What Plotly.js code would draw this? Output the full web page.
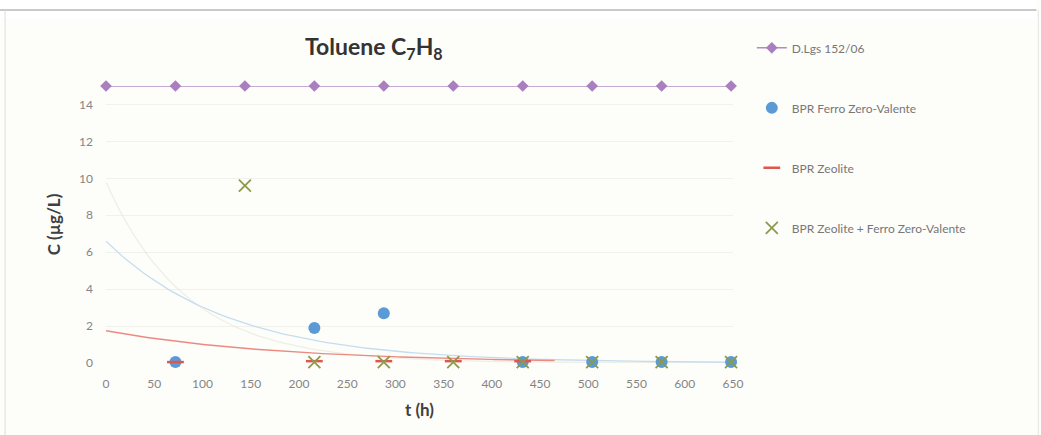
<!DOCTYPE html>
<html>
<head>
<meta charset="utf-8">
<script src="https://cdn.plot.ly/plotly-3.0.1.min.js"></script>
<style>
  html, body { margin: 0; padding: 0; background: #ffffff; }
  #chart { width: 1041px; height: 435px; }
</style>
</head>
<body>
<div id="chart"></div>
<script>
// Sampling times (h)
const limitTimes = [0, 72, 144, 216, 288, 360, 432, 504, 576, 648];
// Legal limit D.Lgs 152/06 for toluene (µg/L)
const limitValues = [15, 15, 15, 15, 15, 15, 15, 15, 15, 15];

// BPR Ferro Zero-Valente
const ferroTimes = [72, 216, 288, 432, 504, 576, 648];
const ferroValues = [0.05, 1.9, 2.7, 0.05, 0.05, 0.05, 0.05];

// BPR Zeolite
const zeoTimes = [72, 216, 288, 360, 432];
const zeoValues = [0.05, 0.1, 0.1, 0.1, 0.1];

// BPR Zeolite + Ferro Zero-Valente
const mixTimes = [144, 216, 288, 360, 432, 504, 576, 648];
const mixValues = [9.6, 0.05, 0.05, 0.05, 0.05, 0.05, 0.05, 0.05];

// Exponential trendlines y = a * exp(b * t): [a, b, tStart, tEnd]
const ferroTrend = [6.6, -0.0078, 0, 650];
const zeoTrend = [1.75, -0.0055, 0, 465];
const mixTrend = [9.8, -0.012, 0, 650];

const xTicks = [0, 50, 100, 150, 200, 250, 300, 350, 400, 450, 500, 550, 600, 650];
const yTicks = [0, 2, 4, 6, 8, 10, 12, 14];

function trendCurve(p) {
  const [a, b, t0, t1] = p;
  const xs = [], ys = [];
  const n = 120;
  for (let i = 0; i <= n; i++) {
    const t = t0 + (t1 - t0) * i / n;
    xs.push(t);
    ys.push(a * Math.exp(b * t));
  }
  return { x: xs, y: ys };
}

const font = 'Lato, "Open Sans", "DejaVu Sans", sans-serif';

const tFerro = trendCurve(ferroTrend);
const tZeo = trendCurve(zeoTrend);
const tMix = trendCurve(mixTrend);

const traces = [
  { x: tMix.x, y: tMix.y, mode: 'lines', showlegend: false, hoverinfo: 'skip',
    line: { color: 'rgba(226,228,214,0.55)', width: 1.3 } },
  { x: tFerro.x, y: tFerro.y, mode: 'lines', showlegend: false, hoverinfo: 'skip',
    line: { color: '#c6ddf0', width: 1.3 } },
  { x: tZeo.x, y: tZeo.y, mode: 'lines', showlegend: false, hoverinfo: 'skip',
    line: { color: '#ec8a80', width: 1.4 } },
  { x: limitTimes, y: limitValues, name: 'D.Lgs 152/06', mode: 'lines+markers',
    legendgroup: 'a', cliponaxis: false,
    line: { color: '#b08cc4', width: 1.5 },
    marker: { symbol: 'diamond', size: 9, color: '#a97fbf' } },
  { x: ferroTimes, y: ferroValues, name: 'BPR Ferro Zero-Valente', mode: 'markers',
    legendgroup: 'b', cliponaxis: false,
    marker: { symbol: 'circle', size: 12, color: '#5b9bd5' } },
  { x: zeoTimes, y: zeoValues, name: 'BPR Zeolite', mode: 'markers',
    legendgroup: 'c', cliponaxis: false,
    marker: { symbol: 'line-ew-open', size: 12, color: '#e0564c', line: { color: '#e0564c', width: 2.5 } } },
  { x: mixTimes, y: mixValues, name: 'BPR Zeolite + Ferro Zero-Valente', mode: 'markers',
    legendgroup: 'd', cliponaxis: false,
    marker: { symbol: 'x-thin-open', size: 12, color: '#8c9a4c', line: { color: '#8c9a4c', width: 1.8 } } }
];

const layout = {
  width: 1041, height: 435,
  margin: { l: 106, r: 308, t: 86, b: 72 },
  paper_bgcolor: '#fdfdfa',
  plot_bgcolor: '#fdfdfa',
  font: { family: font, color: '#6f6f6f', size: 12 },
  xaxis: {
    range: [0, 650], tickvals: xTicks, ticks: '', showgrid: false, zeroline: false,
    showline: false, ticklabelstandoff: 12,
    tickfont: { size: 12, color: '#858585' },
    title: { text: 't (h)', font: { size: 17, color: '#404040', family: font, weight: 'bold' }, standoff: 14 }
  },
  yaxis: {
    range: [0, 15], tickvals: yTicks, ticks: '', showgrid: true, gridcolor: '#f1f1ee',
    zeroline: false, showline: false, ticklabelstandoff: 12,
    tickfont: { size: 12, color: '#858585' },
    title: { text: 'C (µg/L)', font: { size: 17, color: '#404040', family: font, weight: 'bold' }, standoff: 14 }
  },
  legend: {
    x: 1.03, y: 1.19, xanchor: 'left', yanchor: 'top',
    bgcolor: 'rgba(0,0,0,0)', traceorder: 'grouped', tracegroupgap: 41,
    font: { size: 12, color: '#777777', family: font }
  },
  annotations: [
    { text: 'Toluene C<sub>7</sub>H<sub>8</sub>', xref: 'paper', yref: 'paper',
      x: 0.427, y: 1.14, xanchor: 'center', yanchor: 'middle', showarrow: false,
      font: { size: 23, color: '#333333', family: font, weight: 'bold' } }
  ],
  shapes: [
    { type: 'rect', xref: 'paper', yref: 'paper', x0: -0.29, x1: 1.484, y0: 1.242, y1: 2,
      fillcolor: '#ffffff', line: { width: 0 }, layer: 'below' },
    { type: 'line', xref: 'paper', yref: 'paper', x0: -0.29, x1: 1.484, y0: 1.274, y1: 1.274,
      line: { color: '#b8b8b8', width: 1.5 } },
    { type: 'line', xref: 'paper', yref: 'paper', x0: -0.161, x1: -0.161, y0: -0.27, y1: 1.274,
      line: { color: '#dddddd', width: 1 } },
    { type: 'line', xref: 'paper', yref: 'paper', x0: 1.487, x1: 1.487, y0: -0.27, y1: 1.274,
      line: { color: '#e6e6e6', width: 1 } }
  ],
  showlegend: true
};

Plotly.newPlot('chart', traces, layout, { displayModeBar: false, staticPlot: true });
</script>
</body>
</html>
